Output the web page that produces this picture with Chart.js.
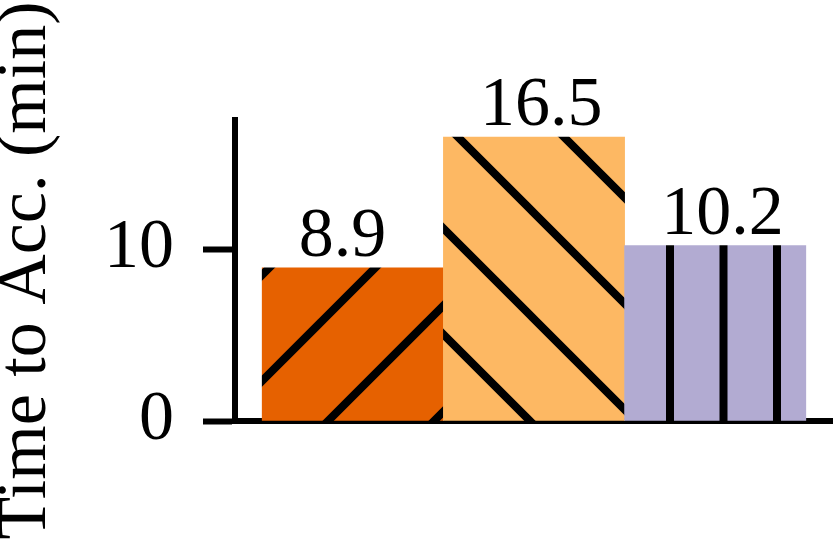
<!DOCTYPE html>
<html lang="en">
<head>
    <meta charset="UTF-8">
    <title>Time to Acc.</title>
    <script src="https://cdn.jsdelivr.net/npm/chart.js"></script>
    <style>
        html, body { margin: 0; padding: 0; background: #fff; overflow: hidden; }
        #wrap { width: 833px; height: 545px; position: relative; }
    </style>
</head>
<body>
    <div id="wrap"><canvas id="chart"></canvas></div>
    <script>
        // chart data
        const positions = [0, 1, 2];
        const values = [8.9, 16.5, 10.2];
        const valueLabels = ['8.9', '16.5', '10.2'];
        const barColors = ['#E66100', '#FDB863', '#B2ABD2'];
        const hatches = ['/', '\\', '|'];
        const yTicks = [0, 10];
        const yTitle = 'Time to Acc. (min)';

        const FONT = '"Liberation Serif", "Times New Roman", serif';

        // hatch fill, anchored to the canvas origin
        function makeHatch(color, kind) {
            const P = kind === '|' ? 107 : 106;
            const tile = document.createElement('canvas');
            tile.width = P;
            tile.height = P;
            const c = tile.getContext('2d');
            c.fillStyle = color;
            c.fillRect(0, 0, P, P);
            c.strokeStyle = '#000';
            c.lineWidth = 8;
            c.beginPath();
            if (kind === '|') {
                [28, 81.5].forEach(x => { c.moveTo(x, -5); c.lineTo(x, P + 5); });
            } else {
                for (let k = -2; k <= 3; k++) {
                    if (kind === '/') {
                        const k0 = 7 + k * P;           // x + y = k0
                        c.moveTo(k0 + P, -P);
                        c.lineTo(k0 - 2 * P, 2 * P);
                    } else {
                        const k0 = 3 + k * P;           // x - y = k0
                        c.moveTo(k0 - P, -P);
                        c.lineTo(k0 + 2 * P, 2 * P);
                    }
                }
            }
            c.stroke();
            return c.createPattern(tile, 'repeat');
        }

        const fills = barColors.map((col, i) => makeHatch(col, hatches[i]));

        const valueLabelPlugin = {
            id: 'valueLabels',
            afterDatasetsDraw(chart) {
                const ctx = chart.ctx;
                const meta = chart.getDatasetMeta(0);
                ctx.save();
                ctx.fillStyle = '#000';
                ctx.font = '70px ' + FONT;
                ctx.textAlign = 'left';
                ctx.textBaseline = 'alphabetic';
                meta.data.forEach((bar, i) => {
                    ctx.fillText(valueLabels[i], bar.x - 54, bar.y - 12);
                });
                ctx.restore();
            }
        };

        new Chart(document.getElementById('chart'), {
            type: 'bar',
            data: {
                datasets: [{
                    data: positions.map((x, i) => ({ x: x, y: values[i] })),
                    backgroundColor: fills,
                    borderWidth: 0,
                    barPercentage: 1,
                    categoryPercentage: 1
                }]
            },
            options: {
                responsive: true,
                maintainAspectRatio: false,
                animation: false,
                layout: { padding: { top: 120, right: 0, left: 0, bottom: 0 } },
                plugins: {
                    legend: { display: false },
                    tooltip: { enabled: false }
                },
                scales: {
                    x: {
                        type: 'linear',
                        offset: false,
                        min: -0.65,
                        max: 2.65,
                        afterBuildTicks(scale) { scale.ticks = positions.map(v => ({ value: v })); },
                        ticks: { display: false },
                        grid: { display: false },
                        border: { display: true, color: '#000', width: 6 },
                        afterFit(scale) { scale.height = 124; }
                    },
                    y: {
                        min: 0,
                        max: 17.5,
                        afterBuildTicks(scale) { scale.ticks = yTicks.map(v => ({ value: v })); },
                        afterFit(scale) { scale.width = 235; },
                        ticks: {
                            color: '#000',
                            padding: 29,
                            font: { family: FONT, size: 70 }
                        },
                        grid: {
                            drawOnChartArea: false,
                            drawTicks: true,
                            tickLength: 32,
                            tickWidth: 6,
                            tickColor: '#000'
                        },
                        border: { display: true, color: '#000', width: 6 },
                        title: {
                            display: true,
                            text: yTitle,
                            color: '#000',
                            font: { family: FONT, size: 70, lineHeight: 1 },
                            padding: { top: -8, bottom: 0 }
                        }
                    }
                }
            },
            plugins: [valueLabelPlugin]
        });
    </script>
</body>
</html>
